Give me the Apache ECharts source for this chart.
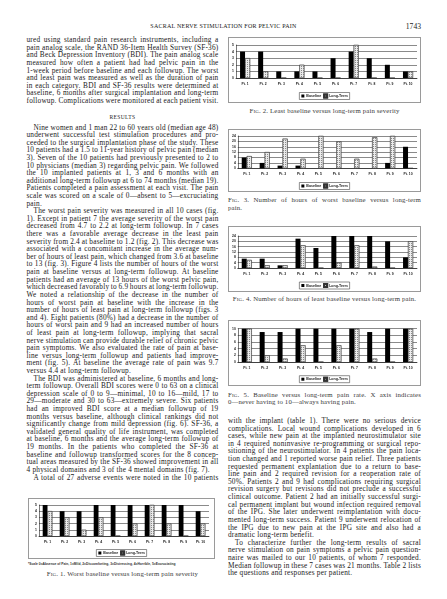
<!DOCTYPE html>
<html><head><meta charset="utf-8">
<script src="https://cdn.jsdelivr.net/npm/echarts@6/dist/echarts.min.js"></script>
<style>
html,body{margin:0;padding:0;background:#fff;}
body{width:447px;height:599px;position:relative;overflow:hidden;font-family:"Liberation Serif","DejaVu Serif",serif;color:#1a1a1a;}
.abs{position:absolute;}
.ln{height:7.62px;line-height:7.62px;white-space:nowrap;font-size:7.3px;letter-spacing:0.22px;}
.ln span{display:inline-block;}
.hdr{font-size:6px;letter-spacing:0.25px;white-space:nowrap;}
.sc{font-variant:small-caps;}
.box{position:absolute;border:0.8px solid #9a9a9a;box-sizing:border-box;background:#fff;}
.cap{font-size:6.8px;color:#3a3a3a;white-space:nowrap;letter-spacing:0.15px;}
.foot{font-family:"Liberation Sans",Arial,sans-serif;font-size:3.3px;font-weight:bold;color:#333;white-space:nowrap;}
</style></head>
<body>
<div class="abs hdr" style="left:0;width:447px;top:23px;text-align:center;">SACRAL NERVE STIMULATION FOR PELVIC PAIN</div>
<div class="abs" style="right:26px;top:21.5px;font-size:7.6px;">1743</div>

<div id="colL1" class="abs" style="left:26.5px;top:36.2px;width:192px;"></div>
<div class="abs hdr" style="left:26.5px;width:192px;top:114px;text-align:center;font-size:5.5px;letter-spacing:0.4px;">RESULTS</div>
<div id="colL2" class="abs" style="left:26.5px;top:123.5px;width:192px;"></div>
<div id="colR" class="abs" style="left:228px;top:417px;width:193px;"></div>

<div id="fig2" class="box" style="left:228px;top:37px;width:193px;height:66px;"></div>
<div class="abs cap" style="left:228px;width:193px;top:106.5px;text-align:center;"><span class="sc">Fig.</span> 2. Least baseline versus long-term pain severity</div>

<div id="fig3" class="box" style="left:228px;top:129px;width:193px;height:63px;"></div>
<div id="cap3" class="abs" style="left:228px;width:193px;top:196px;"></div>

<div id="fig4" class="box" style="left:228px;top:226px;width:193px;height:66px;"></div>
<div class="abs cap" style="left:228px;width:193px;top:294.5px;text-align:center;"><span class="sc">Fig.</span> 4. Number of hours of least baseline versus long-term pain.</div>

<div id="fig5" class="box" style="left:228px;top:320px;width:193px;height:66px;"></div>
<div id="cap5" class="abs" style="left:228px;width:193px;top:390.5px;"></div>

<div id="fig1" class="box" style="left:28px;top:497.7px;width:187px;height:61.5px;"></div>
<div class="abs foot" style="left:28px;top:562px;">*Scale 0=Absence of Pain, 1=Mild, 2=Discomforting, 3=Distressing, 4=Horrible, 5=Excruciating</div>
<div class="abs cap" style="left:26.5px;width:192px;top:569.5px;text-align:center;"><span class="sc">Fig.</span> 1. Worst baseline versus long-term pain severity</div>

<script>
// ---------- chart data ----------
const patients = ['Pt. 1','Pt. 2','Pt. 3','Pt. 4','Pt. 5','Pt. 6','Pt. 7','Pt. 8','Pt. 9','Pt. 10'];
const seriesNames = ['Baseline','Long-Term'];
const fig1Baseline = [5,4,4,5,5,5,5,5,5,4];
const fig1LongTerm = [4,3,1,3,0,2,5,2,0,2];
const fig2Baseline = [4,4,1,1,1,3,4,3,2,1];
const fig2LongTerm = [3,1,0,2,0,0,5,0,0,1];
const fig3Baseline = [8,4,2,2,0,0,0,0,4,16];
const fig3LongTerm = [9,12,22,7,24,20,7,23,24,0];
const fig4Baseline = [7,7,2,22,15,24,24,24,20,8];
const fig4LongTerm = [6,2,2,17,0,4,17,1,0,20];
const fig5Baseline = [10,9,9,10,10,10,10,9,10,10];
const fig5LongTerm = [10,2,1,5,0,5,10,1,0,10];
const severityTicks = {min:0, max:5, step:1};
const hoursTicks = {min:0, max:24, step:4};
const rateTicks = {min:0, max:10, step:2};

// ---------- page text ----------
const leftTop = [
 {indent:false, end:true, lines:[
 "ured using standard pain research instruments, including a",
 "pain analog scale, the RAND 36-Item Health Survey (SF-36)",
 "and Beck Depression Inventory (BDI). The pain analog scale",
 "measured how often a patient had had pelvic pain in the",
 "1-week period before baseline and each followup. The worst",
 "and least pain was measured as well as the duration of pain",
 "in each category. BDI and SF-36 results were determined at",
 "baseline, 6 months after surgical implantation and long-term",
 "followup. Complications were monitored at each patient visit."]}
];
const leftResults = [
 {indent:true, end:true, lines:[
 "Nine women and 1 man 22 to 60 years old (median age 48)",
 "underwent successful test stimulation procedures and pro-",
 "ceeded to the surgical implantation phase of the study. These",
 "10 patients had a 1.5 to 11-year history of pelvic pain (median",
 "3). Seven of the 10 patients had previously presented to 2 to",
 "10 physicians (median 3) regarding pelvic pain. We followed",
 "the 10 implanted patients at 1, 3 and 6 months with an",
 "additional long-term followup at 6 to 74 months (median 19).",
 "Patients completed a pain assessment at each visit. The pain",
 "scale was scored on a scale of 0\u2014absent to 5\u2014excruciating",
 "pain."]},
 {indent:true, end:true, lines:[
 "The worst pain severity was measured in all 10 cases (fig.",
 "1). Except in patient 7 the average severity of the worst pain",
 "decreased from 4.7 to 2.2 at long-term followup. In 7 cases",
 "there was a favorable average decrease in the least pain",
 "severity from 2.4 at baseline to 1.2 (fig. 2). This decrease was",
 "associated with a concomitant increase in the average num-",
 "ber of hours of least pain, which changed from 3.6 at baseline",
 "to 13 (fig. 3). Figure 4 lists the number of hours of the worst",
 "pain at baseline versus at long-term followup. At baseline",
 "patients had an average of 13 hours of the worst pelvic pain,",
 "which decreased favorably to 6.9 hours at long-term followup.",
 "We noted a relationship of the decrease in the number of",
 "hours of worst pain at baseline with the increase in the",
 "number of hours of least pain at long-term followup (figs. 3",
 "and 4). Eight patients (80%) had a decrease in the number of",
 "hours of worst pain and 9 had an increased number of hours",
 "of least pain at long-term followup, implying that sacral",
 "nerve stimulation can provide durable relief of chronic pelvic",
 "pain symptoms. We also evaluated the rate of pain at base-",
 "line versus long-term followup and patients had improve-",
 "ment (fig. 5). At baseline the average rate of pain was 9.7",
 "versus 4.4 at long-term followup."]},
 {indent:true, end:true, lines:[
 "The BDI was administered at baseline, 6 months and long-",
 "term followup. Overall BDI scores were 0 to 63 on a clinical",
 "depression scale of 0 to 9\u2014minimal, 10 to 16\u2014mild, 17 to",
 "29\u2014moderate and 30 to 63\u2014extremely severe. Six patients",
 "had an improved BDI score at a median followup of 19",
 "months versus baseline, although clinical rankings did not",
 "significantly change from mild depression (fig. 6). SF-36, a",
 "validated general quality of life instrument, was completed",
 "at baseline, 6 months and the average long-term followup of",
 "19 months. In the patients who completed the SF-36 at",
 "baseline and followup transformed scores for the 8 concep-",
 "tual areas measured by the SF-36 showed improvement in all",
 "4 physical domains and 3 of the 4 mental domains (fig. 7)."]},
 {indent:true, end:false, lines:[
 "A total of 27 adverse events were noted in the 10 patients"]}
];
const rightText = [
 {indent:false, end:true, lines:[
 "with the implant (table 1). There were no serious device",
 "complications. Local wound complications developed in 6",
 "cases, while new pain at the implanted neurostimulator site",
 "in 4 required noninvasive re-programming or surgical repo-",
 "sitioning of the neurostimulator. In 4 patients the pain loca-",
 "tion changed and 1 reported worse pain relief. Three patients",
 "requested permanent explantation due to a return to base-",
 "line pain and 2 required revision for a reoperation rate of",
 "50%. Patients 2 and 9 had complications requiring surgical",
 "revision surgery but revisions did not preclude a successful",
 "clinical outcome. Patient 2 had an initially successful surgi-",
 "cal permanent implant but wound infection required removal",
 "of the IPG. She later underwent reimplantation with docu-",
 "mented long-term success. Patient 9 underwent relocation of",
 "the IPG due to new pain at the IPG site and also had a",
 "dramatic long-term benefit."]},
 {indent:true, end:true, lines:[
 "To characterize further the long-term results of sacral",
 "nerve stimulation on pain symptoms a pelvic pain question-",
 "naire was mailed to our 10 patients, of whom 7 responded.",
 "Median followup in these 7 cases was 21 months. Table 2 lists",
 "the questions and responses per patient."]}
];
const cap3Lines = [
 {indent:false, end:true, lines:["Fig. 3. Number of hours of worst baseline versus long-term","pain."]}
];
const cap5Lines = [
 {indent:false, end:true, lines:["Fig. 5. Baseline versus long-term pain rate. X axis indicates","0\u2014never having to 10\u2014always having pain."]}
];

function setLines(id, paras, width, extraClass){
 const host = document.getElementById(id);
 paras.forEach(p => {
  p.lines.forEach((t, i) => {
   const d = document.createElement('div');
   d.className = 'ln' + (extraClass ? ' ' + extraClass : '');
   if (extraClass) { d.style.fontSize = '6.8px'; d.style.color = '#3a3a3a'; d.style.letterSpacing = '0.15px'; }
   const ind = (p.indent && i === 0) ? 7 : 0;
   d.style.paddingLeft = ind + 'px';
   const s = document.createElement('span');
   if (t.startsWith('Fig. ')) {
     const sc = document.createElement('span'); sc.className='sc'; sc.textContent='Fig.'; sc.style.display='inline';
     s.appendChild(sc); s.appendChild(document.createTextNode(t.slice(4)));
   } else s.textContent = t;
   d.appendChild(s); host.appendChild(d);
   const last = (i === p.lines.length - 1) && p.end;
   const w = s.getBoundingClientRect().width;
   const spaces = (t.match(/ /g) || []).length;
   const avail = width - ind;
   if (spaces && (!last || w > avail)) s.style.wordSpacing = ((avail - w) / spaces) + 'px';
  });
 });
}
setLines('colL1', leftTop, 192);
setLines('colL2', leftResults, 192);
setLines('colR', rightText, 193);
setLines('cap3', cap3Lines, 193, 'capln');
setLines('cap5', cap5Lines, 193, 'capln');

// ---------- charts ----------
const labelFont = {fontFamily:'"Liberation Sans",Arial,sans-serif', fontWeight:'bold', color:'#222'};
function barChart(id, base, longT, ticks, g){
 const chart = echarts.init(document.getElementById(id), null, {renderer:'canvas'});
 chart.setOption({
  animation:false,
  grid:{left:g.left, right:g.right, top:g.top, bottom:g.bottom},
  legend:{data:seriesNames, bottom:g.legendBottom, left:'center', icon:'rect',
   itemWidth:3, itemHeight:3, itemGap:2, padding:[1,2,1,2],
   borderColor:'#444', borderWidth:0.6,
   textStyle:Object.assign({fontSize:3.6, padding:[0,0,0,-3]}, labelFont)},
  xAxis:{type:'category', data:patients,
   axisTick:{show:false},
   axisLine:{lineStyle:{color:'#222', width:0.7}},
   axisLabel:Object.assign({fontSize:3.4, margin:g.xMargin, interval:0}, labelFont)},
  yAxis:{type:'value', min:ticks.min, max:ticks.max, interval:ticks.step,
   axisLine:{show:true, lineStyle:{color:'#222', width:0.6}},
   axisTick:{show:false},
   splitLine:{lineStyle:{color:'#3a3a3a', width:0.6}},
   axisLabel:Object.assign({fontSize:3.4, margin:2}, labelFont)},
  series:[
   {name:seriesNames[0], type:'bar', data:base, barWidth:g.barW, barGap:'0%',
    itemStyle:{color:'#000'}},
   {name:seriesNames[1], type:'bar', data:longT, barWidth:g.barW,
    itemStyle:{color:'#ececec', borderColor:'#333', borderWidth:0.4,
     decal:{symbol:'rect', symbolSize:1, dashArrayX:[1,1], dashArrayY:[1,1], color:'#8a8a8a', rotation:0}}}
  ]
 });
}
barChart('fig2', fig2Baseline, fig2LongTerm, severityTicks, {left:7, right:3, top:7, bottom:24, legendBottom:2.5, xMargin:4.5, barW:5});
barChart('fig3', fig3Baseline, fig3LongTerm, hoursTicks, {left:7, right:3, top:6, bottom:22.7, legendBottom:1.5, xMargin:4.5, barW:5});
barChart('fig4', fig4Baseline, fig4LongTerm, hoursTicks, {left:7, right:3, top:9, bottom:23, legendBottom:2, xMargin:4.5, barW:5});
barChart('fig5', fig5Baseline, fig5LongTerm, rateTicks, {left:7, right:3, top:7.7, bottom:23, legendBottom:2.3, xMargin:4.5, barW:5});
barChart('fig1', fig1Baseline, fig1LongTerm, severityTicks, {left:10, right:5, top:6, bottom:23, legendBottom:2.5, xMargin:5, barW:4.8});
</script>
</body></html>
